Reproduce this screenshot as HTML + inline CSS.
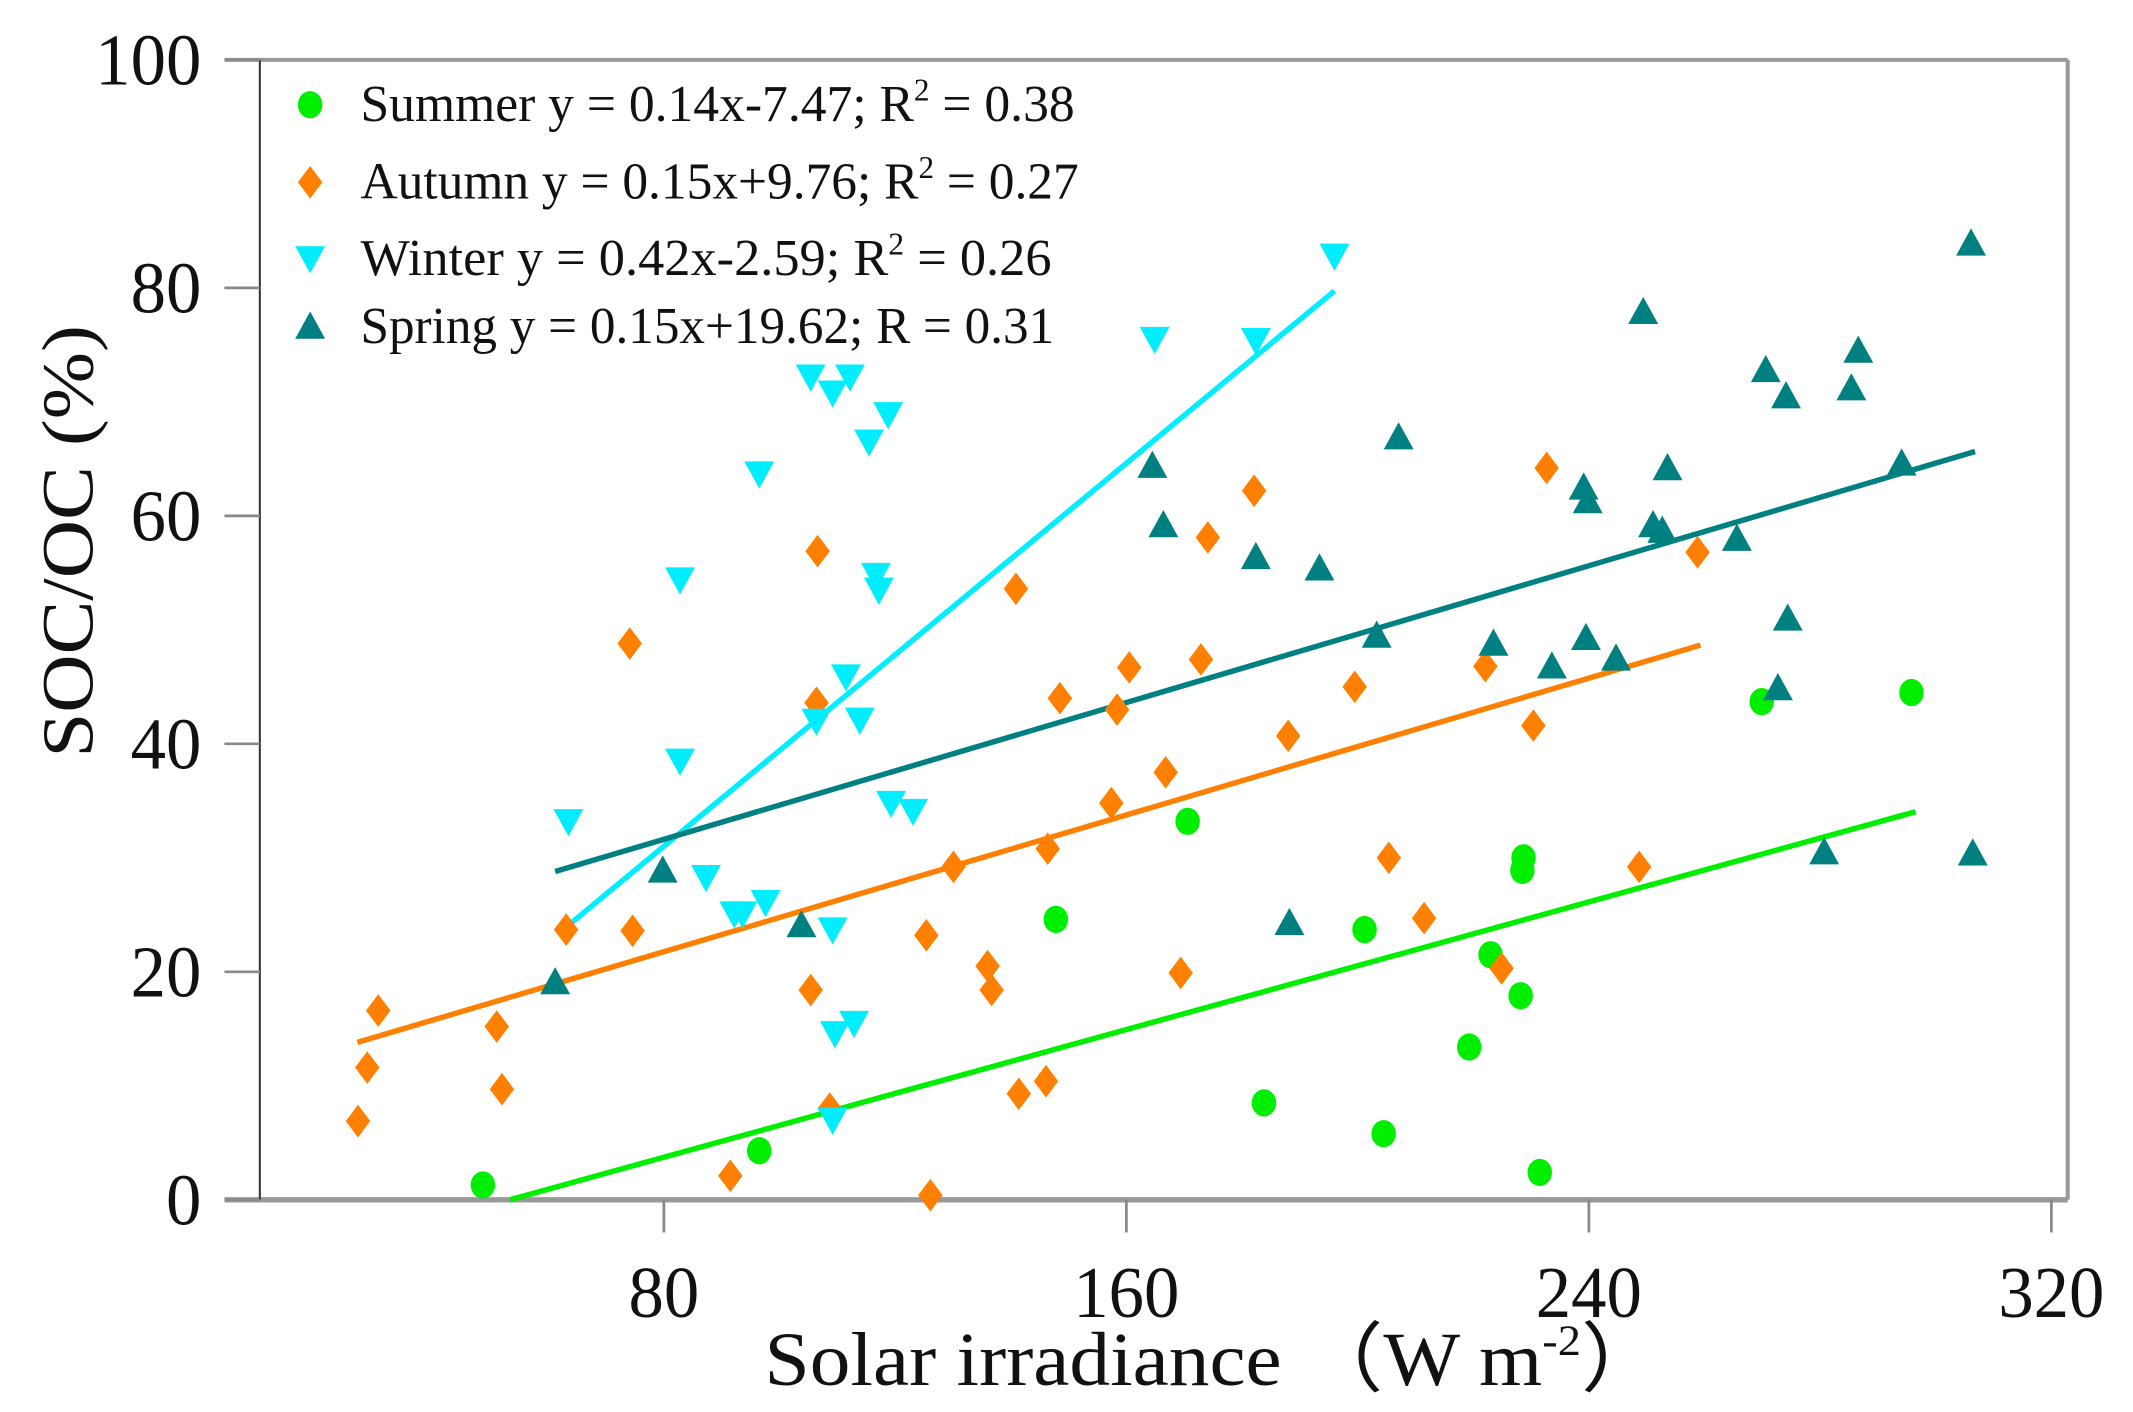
<!DOCTYPE html>
<html><head><meta charset="utf-8"><style>
html,body{margin:0;padding:0;background:#fff;}
svg{display:block;}
text{font-family:"Liberation Serif",serif;fill:#111;}
</style></head><body>
<svg id="chart" width="2133" height="1412" viewBox="0 0 1568 1038" preserveAspectRatio="none" xmlns="http://www.w3.org/2000/svg">
<rect x="0" y="0" width="1568" height="1038" fill="#fff"/>
<g id="frame">
<line x1="165" y1="44" x2="1520" y2="44" stroke="#999" stroke-width="3"/>
<line x1="1520" y1="44" x2="1520" y2="882" stroke="#999" stroke-width="3"/>
<line x1="165" y1="882" x2="1520" y2="882" stroke="#999" stroke-width="4"/>
<line x1="191" y1="44" x2="191" y2="882" stroke="#333" stroke-width="1.5"/>
</g>
<g id="axes"></g>
<g id="lines"></g>
<g id="marks"></g>
<g id="legend"></g>
<text transform="translate(68,398) rotate(-90)" text-anchor="middle" font-size="54" textLength="318" lengthAdjust="spacingAndGlyphs">SOC/OC (%)</text>
<text x="562" y="1018" font-size="56" textLength="660" lengthAdjust="spacingAndGlyphs">Solar irradiance （W m<tspan dy="-22" font-size="32">-2</tspan><tspan dy="22">）</tspan></text>
</svg>
<script>
const xTicks=[80,160,240,320];
const yTicks=[0,20,40,60,80,100];
const summerX=[48.7,96.5,147.8,170.6,183.8,201.2,204.5,219.3,223,228.2,228.5,228.7,231.5,269.9,295.8];
const summerY=[1.3,4.3,24.6,33.2,8.5,23.7,5.8,13.4,21.5,17.9,28.9,30,2.4,43.7,44.5];
const autumnX=[27.1,28.7,30.6,51.1,52,63.1,74.1,74.6,91.5,105.4,106.4,106.6,108.7,125.4,126.1,130.1,136,136.7,140.9,141.4,146.1,146.4,148.5,157.4,158.4,160.5,166.8,169.4,172.9,174.1,182.1,188,199.5,205.4,211.5,222.1,224.9,230.4,232.7,248.7,258.8];
const autumnY=[6.9,11.6,16.6,15.2,9.7,23.7,48.8,23.6,2.1,18.4,43.6,56.9,8,23.2,0.4,29.2,20.5,18.4,53.6,9.3,10.4,30.8,44,34.8,43,46.7,37.5,19.9,47.4,58.1,62.2,40.7,45,30,24.7,46.8,20.3,41.6,64.2,29.2,56.8];
const winterX=[63.5,82.8,82.8,87.3,92.2,93.6,96.5,97.6,105.4,106.4,109.2,109.2,109.2,109.6,111.5,112.2,112.9,113.9,115.5,116.7,117.2,118.8,119.3,123.1,164.9,182.4,196];
const winterY=[33.2,38.5,54.4,28.3,25.1,25.1,63.7,26.1,72.2,42,70.8,23.7,7,14.6,45.9,72.2,15.5,42.1,66.5,54.8,53.5,68.9,34.8,34.1,75.5,75.4,82.8];
const springX=[61.2,79.8,103.8,164.5,166.4,182.4,188.2,193.4,203.3,207.1,223.5,233.6,239.1,239.8,239.5,244.7,249.4,251.1,252.7,253.6,265.6,270.6,272.7,274.1,274.4,280.7,285.4,286.6,294.1,306.1,306.4];
const springY=[19.1,28.9,24.1,64.4,59.2,56.4,24.3,55.4,49.5,66.9,48.8,46.8,62.5,61.3,49.3,47.5,77.9,59.2,58.7,64.2,58,72.8,44.9,70.5,51,30.5,71.2,74.5,64.6,83.9,30.4];
const fitSlope=[0.14,0.15,0.42,0.15];
const fitIntercept=[-7.47,9.76,-2.59,19.62];
const fitXStart=[53.4,27,63.5,61.2];
const fitXEnd=[296.5,259.3,196,306.8];
const seasonNames=['summer','autumn','winter','spring'];
const legendLabels=['Summer y = 0.14x-7.47; R','Autumn y = 0.15x+9.76; R','Winter y = 0.42x-2.59; R','Spring y = 0.15x+19.62; R'];
const legendTails=[' = 0.38',' = 0.27',' = 0.26',' = 0.31'];

const colors=['#00ee00','#ff8000','#00eeff','#008080'];
const legendWidths=[525,528,508,510];
const sx=v=>148+v*4.25, sy=v=>882-v*8.38;
const NS='http://www.w3.org/2000/svg';
function mk(tag,attrs,parent){const e=document.createElementNS(NS,tag);for(const k in attrs)e.setAttribute(k,attrs[k]);parent.appendChild(e);return e;}
const axes=document.getElementById('axes');
xTicks.forEach(t=>{
  const l=mk('line',{x1:sx(t),x2:sx(t),y1:882,y2:906,stroke:'#888','stroke-width':2},axes);
  
  
  const tx=mk('text',{x:sx(t),y:968,'text-anchor':'middle','font-size':54,textLength:String(t).length*26,lengthAdjust:'spacingAndGlyphs'},axes);
  tx.textContent=t;
  
  
});
yTicks.forEach(t=>{
  const l=mk('line',{x1:165,x2:191,y1:sy(t),y2:sy(t),stroke:'#888','stroke-width':2},axes);
  
  
  const tx=mk('text',{x:148,y:sy(t)+18,'text-anchor':'end','font-size':54,textLength:String(t).length*26,lengthAdjust:'spacingAndGlyphs'},axes);
  tx.textContent=t;
  
  
});
const linesG=document.getElementById('lines');
for(let i=0;i<4;i++){
  const x0=fitXStart[i],x1=fitXEnd[i];
  const l=mk('line',{x1:sx(x0),y1:sy(fitSlope[i]*x0+fitIntercept[i]),x2:sx(x1),y2:sy(fitSlope[i]*x1+fitIntercept[i]),stroke:colors[i],'stroke-width':4},linesG);
  
  
}
function marker(i,cx,cy,parent){
  let e;
  if(i===0) e=mk('ellipse',{cx:cx,cy:cy,rx:9,ry:10,fill:colors[0]},parent);
  else if(i===1) e=mk('polygon',{points:`${cx},${cy-12} ${cx+9},${cy} ${cx},${cy+12} ${cx-9},${cy}`,fill:colors[1]},parent);
  else if(i===2) e=mk('polygon',{points:`${cx-11},${cy-9} ${cx+11},${cy-9} ${cx},${cy+11}`,fill:colors[2]},parent);
  else e=mk('polygon',{points:`${cx-11},${cy+9} ${cx+11},${cy+9} ${cx},${cy-11}`,fill:colors[3]},parent);
  return e;
}
const marks=document.getElementById('marks');
const XS=[summerX,autumnX,winterX,springX], YS=[summerY,autumnY,winterY,springY];
for(let i=0;i<4;i++){
  XS[i].forEach((x,j)=>{
    const e=marker(i,sx(x),sy(YS[i][j]),marks);
    
    
  });
}
const lg=document.getElementById('legend');
const ly=[77,134,190,240];
for(let i=0;i<4;i++){
  const e=marker(i,228,ly[i],lg);
  
  
  const t=mk('text',{x:265,y:ly[i]+12,'font-size':38,textLength:legendWidths[i],lengthAdjust:'spacingAndGlyphs'},lg);
  
  
  t.appendChild(document.createTextNode(legendLabels[i]));
  if(i<3){const s=mk('tspan',{dy:-15,'font-size':23},t);s.textContent='2';
    const s2=mk('tspan',{dy:15},t);s2.textContent=legendTails[i];}
  else{t.appendChild(document.createTextNode(legendTails[i]));}
}
</script>
</body></html>
